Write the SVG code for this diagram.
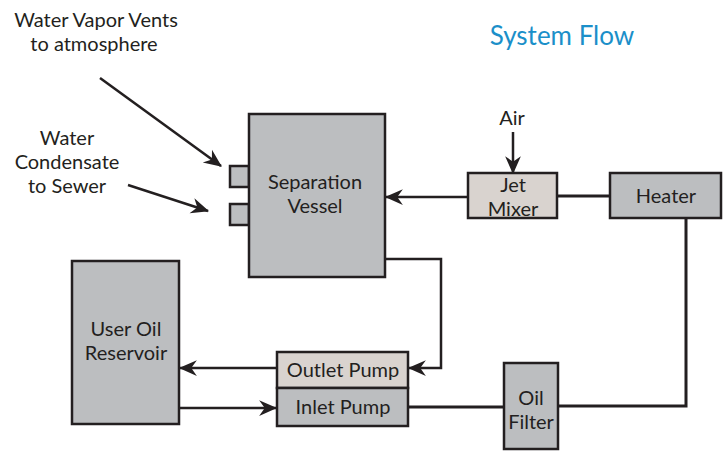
<svg xmlns="http://www.w3.org/2000/svg" width="726" height="452" viewBox="0 0 726 452">
<defs>
<style>
.box{fill:#bcbec0;stroke:#231f20;stroke-width:2.5}
.tex{fill:#d9d3cf;stroke:#231f20;stroke-width:2.5}
.t{font-family:Lato,"Liberation Sans",sans-serif;font-size:20px;fill:#231f20;text-anchor:middle}
.c{fill:none;stroke:#231f20;stroke-width:3}
.a{fill:none;stroke:#231f20;stroke-width:2.5;marker-end:url(#ah)}
.title{font-family:Lato,"Liberation Sans",sans-serif;font-size:26px;fill:#1b8fc9;text-anchor:middle}
</style>
<marker id="ah" markerUnits="userSpaceOnUse" viewBox="0 0 16 16" refX="15" refY="8" markerWidth="18" markerHeight="18" orient="auto">
<path d="M0,1 L16,8 L0,15 L5,8 z" fill="#231f20"/>
</marker>
</defs>
<rect width="726" height="452" fill="#ffffff"/>
<text class="title" x="562" y="45">System Flow</text>
<g id="labels">
<text class="t" x="96" y="27">Water Vapor Vents</text>
<text class="t" x="94" y="51">to atmosphere</text>
<text class="t" x="67" y="145">Water</text>
<text class="t" x="67" y="169">Condensate</text>
<text class="t" x="67" y="193">to Sewer</text>
<text class="t" x="512" y="125">Air</text>
</g>
<g id="connectors">
<path class="c" d="M557,196 H610"/>
<path class="a" d="M468,197 H386"/>
<path class="a" d="M513,132 V173"/>
<path class="c" d="M686,218 V406 H558"/>
<path class="c" d="M504,407 H408"/>
<path class="a" d="M385,259 H441 V368 H409"/>
<path class="a" d="M277,368 H180"/>
<path class="a" d="M179,408 H276"/>
<path class="a" d="M100,78 L221,166"/>
<path class="a" d="M128,185 L208,211"/>
</g>
<g id="separation-vessel">
<rect class="box" x="230" y="166" width="19" height="21"/>
<rect class="box" x="230" y="204" width="19" height="21"/>
<rect class="box" x="249" y="114" width="136" height="163"/>
<text class="t" x="315" y="189">Separation</text>
<text class="t" x="315" y="213">Vessel</text>
</g>
<g id="jet-mixer">
<rect class="tex" x="468" y="173" width="89" height="45"/>
<text class="t" x="513" y="192">Jet</text>
<text class="t" x="513" y="216">Mixer</text>
</g>
<g id="heater">
<rect class="box" x="610" y="173" width="111" height="45"/>
<text class="t" x="666" y="203">Heater</text>
</g>
<g id="user-oil-reservoir">
<rect class="box" x="72" y="261" width="107" height="163"/>
<text class="t" x="126" y="336">User Oil</text>
<text class="t" x="126" y="360">Reservoir</text>
</g>
<g id="outlet-pump">
<rect class="tex" x="277" y="352" width="131" height="36"/>
<text class="t" x="343" y="377">Outlet Pump</text>
</g>
<g id="inlet-pump">
<rect class="box" x="277" y="388" width="131" height="38"/>
<text class="t" x="343" y="414">Inlet Pump</text>
</g>
<g id="oil-filter">
<rect class="box" x="504" y="363" width="54" height="86"/>
<text class="t" x="531" y="405">Oil</text>
<text class="t" x="531" y="429">Filter</text>
</g>
</svg>
